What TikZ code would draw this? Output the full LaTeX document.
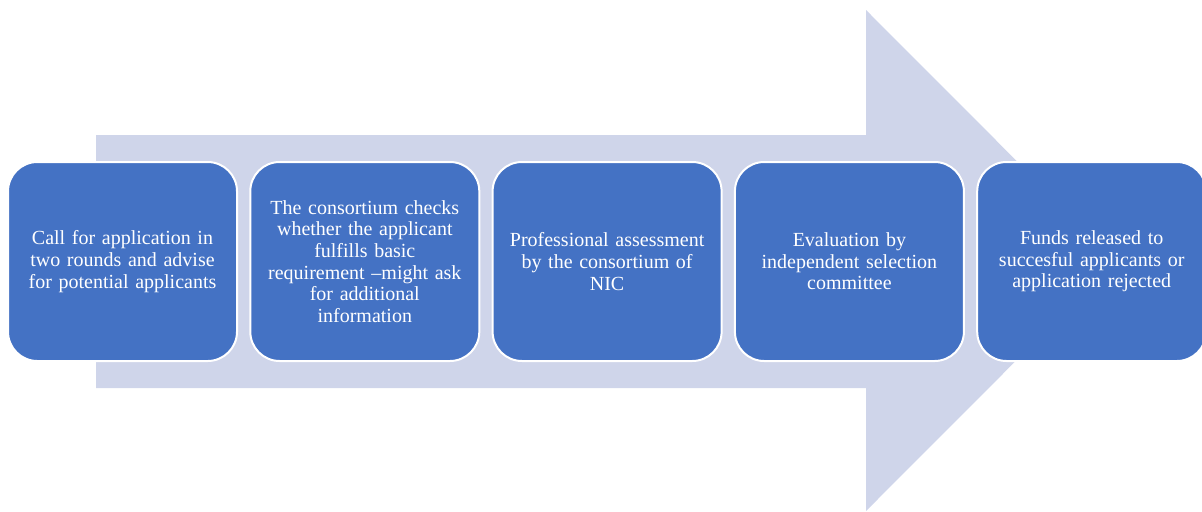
\documentclass[tikz,border=0pt]{standalone}
\usepackage{fontspec}
\setmainfont{Liberation Serif}
\usetikzlibrary{
  arrows.meta,
  positioning,
}
\definecolor{stepblue}{HTML}{4472C4}
\definecolor{flowgrey}{HTML}{CFD5EA}
\tikzset{
  stepbox/.style={
    rectangle,
    rounded corners=22pt,
    fill=stepblue,
    draw=white,
    line width=1.5pt,
    minimum width=171.75pt,
    minimum height=149.25pt,
    text width=165pt,
    align=center,
    text=white,
    font=\fontsize{15}{16.2}\selectfont,
  },
}

\begin{document}
\begin{tikzpicture}[x=0.75pt,y=-0.75pt]
      \useasboundingbox (0,0) rectangle (1202,511);
      % big background arrow
      \fill[flowgrey] (96,135) -- (866,135) -- (866,10) -- (1116,260.5)
        -- (866,511) -- (866,388) -- (96,388) -- cycle;
      \foreach \i/\txt in {
        1/{Call for application in\\two rounds and advise\\for potential applicants},
        2/{The consortium checks\\whether the applicant\\fulfills basic\\requirement –might ask\\for additional\\information},
        3/{Professional assessment\\by the consortium of\\NIC},
        4/{Evaluation by\\independent selection\\committee},
        5/{Funds released to\\succesful applicants or\\application rejected}}
      {
        \node[stepbox] (box\i) at (122.5+242.3*\i-242.3, 261.5) {\txt};
      }
    \end{tikzpicture}
\end{document}
